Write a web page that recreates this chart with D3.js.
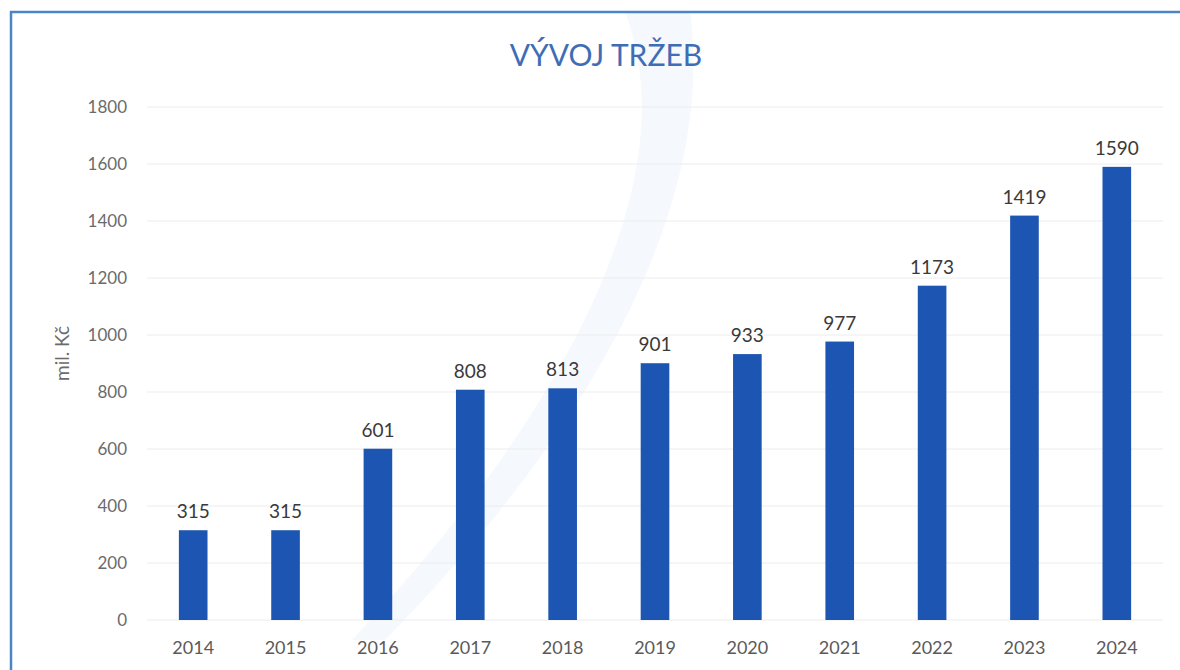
<!DOCTYPE html>
<html>
<head>
<meta charset="utf-8">
<script src="https://cdn.jsdelivr.net/npm/d3@7"></script>
<style>
  body { margin: 0; background: #fff; }
  svg { display: block; font-family: "Lato", "Open Sans", sans-serif; }
</style>
</head>
<body>
<div id="chart"></div>
<script>
// chart data
const years = ["2014", "2015", "2016", "2017", "2018", "2019", "2020", "2021", "2022", "2023", "2024"];
const revenue = [315, 315, 601, 808, 813, 901, 933, 977, 1173, 1419, 1590];
const yTicks = [0, 200, 400, 600, 800, 1000, 1200, 1400, 1600, 1800];

const W = 1180, H = 670;
const margin = {top: 107, right: 17, bottom: 50, left: 147},
    width = W - margin.left - margin.right,
    height = H - margin.top - margin.bottom;

const svg = d3.select("#chart")
  .append("svg")
    .attr("width", W)
    .attr("height", H);

// faint watermark swoosh behind the plot
svg.append("path")
  .attr("d", "M625,12 C690,180 560,420 352,640 L385,640 C600,420 715,200 690,12 Z")
  .attr("fill", "#eef4fa")
  .attr("opacity", 0.6);

// frame (top and left edge of the scanned box)
svg.append("path")
  .attr("d", `M11,${H} L11,12 L${W},12`)
  .attr("fill", "none")
  .attr("stroke", "#4a86c5")
  .attr("stroke-width", 2.5);

const g = svg.append("g")
  .attr("transform", `translate(${margin.left},${margin.top})`);

const x = d3.scaleBand()
  .domain(years)
  .range([0, width])
  .paddingInner(0.69)
  .paddingOuter(0.345);

const y = d3.scaleLinear()
  .domain([0, 1800])
  .range([height, 0]);

// gridlines
g.append("g")
  .selectAll("line")
  .data(yTicks)
  .join("line")
    .attr("x1", 0)
    .attr("x2", width)
    .attr("y1", d => y(d))
    .attr("y2", d => y(d))
    .attr("stroke", "#ececec")
    .attr("stroke-width", 1);

// y axis
const yAxis = g.append("g")
  .call(d3.axisLeft(y).tickValues(yTicks).tickFormat(d3.format("d")).tickSize(0).tickPadding(20));
yAxis.attr("font-family", null);
yAxis.select(".domain").remove();
yAxis.selectAll("text")
  .attr("fill", "#6b6b6b")
  .style("font-size", "17px");

// x axis
const xAxis = g.append("g")
  .attr("transform", `translate(0,${height})`)
  .call(d3.axisBottom(x).tickSize(0).tickPadding(21));
xAxis.attr("font-family", null);
xAxis.select(".domain").remove();
xAxis.selectAll("text")
  .attr("fill", "#5a5a5a")
  .style("font-size", "18px");

// bars
g.selectAll("rect.bar")
  .data(revenue)
  .join("rect")
    .attr("class", "bar")
    .attr("x", (d, i) => x(years[i]))
    .attr("y", d => y(d))
    .attr("width", x.bandwidth())
    .attr("height", d => height - y(d))
    .attr("fill", "#1d55b2");

// value labels
g.selectAll("text.val")
  .data(revenue)
  .join("text")
    .attr("class", "val")
    .attr("x", (d, i) => x(years[i]) + x.bandwidth() / 2)
    .attr("y", d => y(d) - 12)
    .attr("text-anchor", "middle")
    .attr("fill", "#3a3a3a")
    .style("font-size", "19px")
    .text(d => d);

// title
svg.append("text")
  .attr("x", 606)
  .attr("y", 66)
  .attr("text-anchor", "middle")
  .attr("fill", "#3f6db5")
  .style("font-size", "30px")
  .text("VÝVOJ TRŽEB");

// y axis label
svg.append("text")
  .attr("transform", `translate(69,${margin.top + height / 2 - 10}) rotate(-90)`)
  .attr("text-anchor", "middle")
  .attr("fill", "#6b6b6b")
  .style("font-size", "19px")
  .text("mil. Kč");
</script>
</body>
</html>
